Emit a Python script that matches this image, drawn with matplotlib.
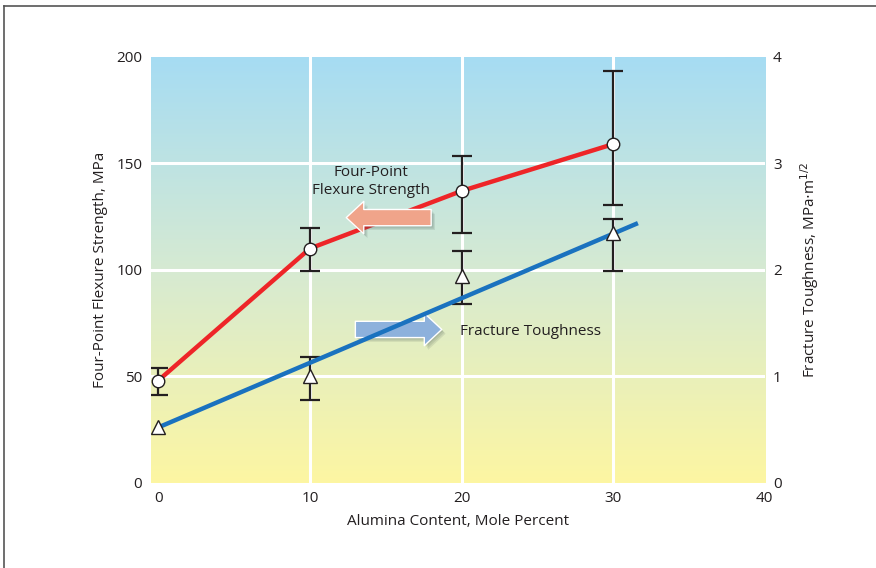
import numpy as np
import matplotlib.pyplot as plt
from matplotlib.colors import LinearSegmentedColormap
from matplotlib.lines import Line2D

plt.rcParams['font.family'] = ['Open Sans', 'DejaVu Sans']

# data
alumina = [0, 10, 20, 30]
strength = [48, 110, 137, 159]
strength_lo = [41, 99.5, 117.5, 130.5]
strength_hi = [54, 119.5, 153.5, 193.5]

toughness = [0.52, 1.0, 1.94, 2.35]
tough_lo = [None, 0.78, 1.68, 1.99]
tough_hi = [None, 1.18, 2.18, 2.48]
fit_x = [0, 31.5]
fit_y = [0.52, 2.43]

text_col = '#231f20'

fig = plt.figure(figsize=(8.76, 5.68), dpi=100)
ax = fig.add_axes([0.172, 0.15, 0.701, 0.75])
ax2 = ax.twinx()

# background gradient
cmap = LinearSegmentedColormap.from_list('bg', ['#fdf6a2', '#d6ead2', '#a6dcf3'])
grad = np.linspace(0, 1, 256).reshape(-1, 1)
ax.imshow(grad, cmap=cmap, aspect='auto', origin='lower', extent=[0, 1, 0, 1],
          transform=ax.transAxes, zorder=0)

ax.set_xlim(-0.5, 40)
ax.set_ylim(0, 200)
ax2.set_ylim(0, 4)
ax.set_xticks([0, 10, 20, 30, 40])
ax.set_yticks([0, 50, 100, 150, 200])
ax2.set_yticks([0, 1, 2, 3, 4])
for a in (ax, ax2):
    for s in a.spines.values():
        s.set_visible(False)
    a.tick_params(length=0, labelsize=11, colors=text_col, pad=6)
ax.grid(True, color='white', linewidth=2.2, zorder=1)
ax.set_axisbelow(False)
# no grid lines on the outer edges
for gl in (ax.xaxis.get_gridlines()[0], ax.xaxis.get_gridlines()[-1],
           ax.yaxis.get_gridlines()[0], ax.yaxis.get_gridlines()[-1]):
    gl.set_visible(False)

# strength series
ax.errorbar(alumina, strength,
            yerr=[np.subtract(strength, strength_lo), np.subtract(strength_hi, strength)],
            fmt='none', ecolor='#231f20', elinewidth=1.6, capsize=7, capthick=1.6, zorder=3)
ax.plot(alumina, strength, color='#ee2528', linewidth=3.2, zorder=4)
ax.plot(alumina, strength, 'o', markersize=9, markerfacecolor='white',
        markeredgecolor='#231f20', markeredgewidth=1, zorder=5)

# toughness series
ex = [x for x, lo in zip(alumina, tough_lo) if lo is not None]
ey = [y for y, lo in zip(toughness, tough_lo) if lo is not None]
elo = [lo for lo in tough_lo if lo is not None]
ehi = [hi for hi in tough_hi if hi is not None]
ax2.errorbar(ex, ey, yerr=[np.subtract(ey, elo), np.subtract(ehi, ey)],
             fmt='none', ecolor='#231f20', elinewidth=1.6, capsize=7, capthick=1.6, zorder=3)
ax2.plot(fit_x, fit_y, color='#1a72bf', linewidth=3.2, zorder=4)
ax2.plot(alumina, toughness, '^', markersize=10, markerfacecolor='white',
         markeredgecolor='#231f20', markeredgewidth=1, zorder=5)


def draw_arrow(a, tail, tip, color):
    style = 'simple,head_length=0.7,head_width=1.3,tail_width=0.65'
    for k, al in ((0.25, 0.12), (0.18, 0.12), (0.1, 0.12)):
        a.annotate('', xy=(tip[0] + k, tip[1] - 8 * k), xytext=(tail[0] + k, tail[1] - 8 * k),
                   arrowprops=dict(arrowstyle=style, fc='#40504a', ec='none', alpha=al,
                                   mutation_scale=18, shrinkA=0, shrinkB=0), zorder=5)
    a.annotate('', xy=tip, xytext=tail,
               arrowprops=dict(arrowstyle=style, fc=color, ec='white', lw=1,
                               mutation_scale=18, shrinkA=0, shrinkB=0), zorder=6)


draw_arrow(ax, (18.0, 124.5), (12.4, 124.5), '#f0a48a')
draw_arrow(ax, (13.0, 72), (18.7, 72), '#8db1dc')

ax.text(14.0, 141.5, 'Four-Point\nFlexure Strength', ha='center', va='center',
        fontsize=11, color=text_col, linespacing=1.3, zorder=7)
ax.text(19.9, 71, 'Fracture Toughness', ha='left', va='center',
        fontsize=11, color=text_col, zorder=7)

ax.set_xlabel('Alumina Content, Mole Percent', fontsize=11, color=text_col, labelpad=6)
ax.set_ylabel('Four-Point Flexure Strength, MPa', fontsize=11, color=text_col)
ax2.set_ylabel('Fracture Toughness, MPa$\\cdot$m$^{1/2}$', fontsize=11, color=text_col, labelpad=12)
ax.yaxis.set_label_coords(-0.07, 0.5)

# frame around figure
fig.add_artist(Line2D([0.005, 0.005], [0, 0.99], transform=fig.transFigure, color='#555555', lw=1.2))
fig.add_artist(Line2D([0.005, 1], [0.99, 0.99], transform=fig.transFigure, color='#555555', lw=1.2))

fig.savefig('out.png', dpi=100)
